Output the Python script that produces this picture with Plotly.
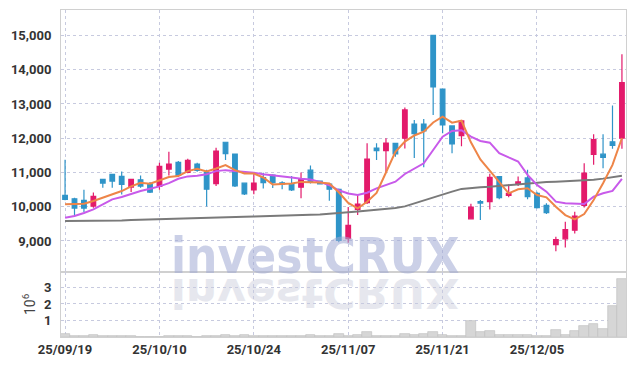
import base64
import plotly.graph_objects as go

# ---------------- data ----------------
dates = [
    "25/09/19", "25/09/22", "25/09/23", "25/09/24", "25/09/25", "25/09/26", "25/09/29", "25/09/30",
    "25/10/01", "25/10/02", "25/10/10", "25/10/13", "25/10/14", "25/10/15", "25/10/16", "25/10/17",
    "25/10/20", "25/10/21", "25/10/22", "25/10/23", "25/10/24", "25/10/27", "25/10/28", "25/10/29",
    "25/10/30", "25/10/31", "25/11/03", "25/11/04", "25/11/05", "25/11/06", "25/11/07", "25/11/10",
    "25/11/11", "25/11/12", "25/11/13", "25/11/14", "25/11/17", "25/11/18", "25/11/19", "25/11/20",
    "25/11/21", "25/11/24", "25/11/25", "25/11/26", "25/11/27", "25/11/28", "25/12/01", "25/12/02",
    "25/12/03", "25/12/04", "25/12/05", "25/12/08", "25/12/09", "25/12/10", "25/12/11", "25/12/12",
    "25/12/15", "25/12/16", "25/12/17", "25/12/18",
]
open_ = [10330, 10233, 10185, 10019, 10797, 10943, 10885, 10573, 10787, 10670,
         10593, 11098, 11293, 11000, 11244, 11005, 10676, 11882, 11539, 10686,
         10490, 10853, 10921, 10696, 10657, 10568, 11068, 10745, 10657, 10505,
         9065, 9922, 10117, 11714, 11636, 11850, 12000, 12415, 12415, 15000,
         13435, 12360, 12076, 9645, 10146, 10147, 10880, 10333, 10665, 10841,
         10391, 10039, 8895, 9061, 9316, 10039, 11525, 11535, 11897, 12005]
high = [11370, 10262, 10496, 10418, 10816, 10950, 11030, 10800, 10914, 10720,
        11283, 11604, 11332, 11400, 11283, 11080, 11725, 11900, 11550, 10690,
        10950, 10990, 10950, 10745, 10900, 11000, 11205, 10755, 10676, 10530,
        9990, 10360, 11850, 11850, 12000, 11860, 12900, 12530, 12560, 15000,
        13440, 12370, 12510, 10085, 10195, 10965, 10880, 10655, 10880, 11076,
        10440, 10098, 9120, 9560, 9853, 11271, 12112, 12112, 12953, 14452]
low = [10190, 9728, 9844, 9971, 10554, 10554, 10360, 10428, 10554, 10398,
       10496, 10914, 10865, 10980, 11020, 10005, 10608, 11362, 10578, 10343,
       10363, 10529, 10549, 10510, 10460, 10245, 10676, 10647, 10176, 8960,
       8950, 9756, 10078, 11363, 11000, 11460, 11700, 11420, 11150, 12680,
       12145, 11560, 11765, 9640, 9610, 9922, 10215, 10274, 10606, 10215,
       9950, 9785, 8700, 8807, 9218, 9980, 11222, 11125, 11690, 11690]
close = [10214, 9961, 9961, 10301, 10690, 10748, 10651, 10797, 10603, 10428,
         11176, 11244, 10914, 11351, 11060, 10510, 11627, 11548, 10608, 10372,
         10686, 10706, 10706, 10657, 10490, 10794, 10725, 10666, 10510, 9020,
         9455, 10078, 11393, 11636, 11856, 11540, 12825, 12130, 12215, 13500,
         12392, 11832, 12505, 9990, 10107, 10860, 10264, 10391, 10724, 10293,
         9970, 9824, 9042, 9335, 9726, 10978, 11956, 11437, 11790, 13620]
ma_short = [10075, 10080, 10087, 10165, 10262, 10360, 10457, 10593, 10700, 10670,
            10768, 10865, 10894, 11040, 11108, 11030, 11117, 11215, 11068, 10970,
            10970, 10853, 10647, 10657, 10676, 10725, 10725, 10706, 10676, 10420,
            10110, 9951, 10146, 10400, 11000, 11600, 11900, 12080, 12190, 12460,
            12630, 12455, 12510, 11880, 11380, 11050, 10704, 10391, 10508, 10538,
            10342, 10274, 10000, 9755, 9628, 9785, 10196, 10685, 11222, 12005]
ma_mid = [9679, 9728, 9815, 9922, 10068, 10214, 10282, 10380, 10457, 10525,
          10593, 10690, 10816, 10885, 10904, 10950, 11039, 11068, 11049, 11019,
          10990, 10950, 10921, 10902, 10853, 10813, 10794, 10725, 10627, 10480,
          10386, 10341, 10409, 10536, 10633, 10730, 10955, 11120, 11266, 11656,
          12045, 12211, 12235, 12045, 11920, 11870, 11565, 11438, 11320, 10929,
          10636, 10440, 10147, 10098, 10078, 10078, 10293, 10391, 10460, 10812]
ma_long = [9580, 9580, 9582, 9585, 9590, 9595, 9600, 9610, 9620, 9630,
           9640, 9650, 9660, 9670, 9680, 9690, 9695, 9700, 9705, 9710,
           9715, 9720, 9725, 9735, 9745, 9755, 9765, 9775, 9790, 9810,
           9840, 9860, 9880, 9900, 9930, 9960, 10010, 10100, 10180, 10280,
           10370, 10440, 10520, 10555, 10570, 10585, 10610, 10640, 10665, 10690,
           10705, 10720, 10730, 10740, 10750, 10765, 10790, 10820, 10860, 10905]
volume_millions = [0.20, 0.06, 0.05, 0.10, 0.06, 0.04, 0.05, 0.07, 0.03, 0.02,
                   0.03, 0.06, 0.07, 0.04, 0.03, 0.06, 0.08, 0.10, 0.07, 0.10,
                   0.07, 0.06, 0.06, 0.05, 0.05, 0.08, 0.10, 0.04, 0.05, 0.20,
                   0.06, 0.10, 0.32, 0.05, 0.05, 0.05, 0.20, 0.12, 0.18, 0.32,
                   0.12, 0.06, 0.04, 0.95, 0.28, 0.34, 0.10, 0.10, 0.14, 0.14,
                   0.08, 0.08, 0.44, 0.10, 0.34, 0.65, 0.80, 0.50, 1.86, 3.54]
price_ticks = [9000, 10000, 11000, 12000, 13000, 14000, 15000]
volume_ticks = [1, 2, 3]
date_tick_idx = [0, 10, 20, 30, 40, 50]

# ---------------- styles ----------------
RED = "#E31A6B"
BLUE = "#2F94C8"
ORANGE = "#EE8548"
PURPLE = "#C85AEA"
GRAYMA = "#7A7A7A"
GRID = "#C7CADF"
FRAME = "#D0D0D0"
FONT = "Roboto, DejaVu Sans Condensed, sans-serif"
TICKFONT = dict(family=FONT, size=13, color="#333333", weight="bold")
WMFONT = "DejaVu Sans Condensed, Roboto, sans-serif"

x_idx = list(range(len(dates)))

fig = go.Figure()

fig.add_trace(go.Bar(
    x=x_idx, y=volume_millions, xaxis="x2", yaxis="y2",
    marker=dict(color="#D6D6D6", line=dict(color="#BDBDBD", width=0.6)),
    showlegend=False, hoverinfo="skip",
))

fig.add_trace(go.Scatter(x=x_idx, y=ma_long, mode="lines", line=dict(color=GRAYMA, width=2),
                         xaxis="x", yaxis="y", showlegend=False, hoverinfo="skip"))
fig.add_trace(go.Scatter(x=x_idx, y=ma_mid, mode="lines", line=dict(color=PURPLE, width=2),
                         xaxis="x", yaxis="y", showlegend=False, hoverinfo="skip"))
fig.add_trace(go.Scatter(x=x_idx, y=ma_short, mode="lines", line=dict(color=ORANGE, width=2),
                         xaxis="x", yaxis="y", showlegend=False, hoverinfo="skip"))

fig.add_trace(go.Candlestick(
    x=x_idx, open=open_, high=high, low=low, close=close,
    increasing=dict(line=dict(color=RED, width=1.2), fillcolor=RED),
    decreasing=dict(line=dict(color=BLUE, width=1.2), fillcolor=BLUE),
    whiskerwidth=0, xaxis="x", yaxis="y", showlegend=False, hoverinfo="skip",
))

xcommon = dict(
    range=[-0.43, len(dates) - 1 + 0.43],
    tickmode="array",
    tickvals=date_tick_idx,
    ticktext=[dates[i] for i in date_tick_idx],
    showgrid=True, gridcolor=GRID, griddash="dot", gridwidth=1,
    showline=True, mirror=True, linecolor=FRAME, linewidth=1,
    zeroline=False, ticks="", automargin=False,
)

fig.update_layout(
    width=634, height=366,
    margin=dict(l=61, r=8, t=10, b=29),
    paper_bgcolor="white", plot_bgcolor="white",
    bargap=0,
    xaxis=dict(xcommon, anchor="y", domain=[0, 1], showticklabels=False,
               rangeslider=dict(visible=False)),
    yaxis=dict(anchor="x", domain=[0.199, 1], range=[8096, 15743],
               tickmode="array", tickvals=price_ticks,
               ticktext=[f"{v:,}" for v in price_ticks],
               tickfont=TICKFONT, ticks="", ticklabelstandoff=6, automargin=False,
               showgrid=True, gridcolor=GRID, griddash="dot", gridwidth=1,
               showline=True, mirror=True, linecolor=FRAME, zeroline=False),
    xaxis2=dict(xcommon, anchor="y2", domain=[0, 1], matches="x",
                tickfont=TICKFONT, ticklabelstandoff=0),
    yaxis2=dict(anchor="x2", domain=[0, 0.199], range=[0, 3.94],
                tickmode="array", tickvals=volume_ticks,
                ticktext=[str(v) for v in volume_ticks],
                tickfont=TICKFONT, ticks="", ticklabelstandoff=6, automargin=False,
                title=dict(text="10<sup>6</sup>", font=dict(family=FONT, size=14, color="#444444"),
                           standoff=5),
                showgrid=True, gridcolor=GRID, griddash="dot", gridwidth=1,
                showline=True, mirror=True, linecolor=FRAME, zeroline=False),
)

# watermark
fig.add_annotation(
    text="<b>investCRUX</b>", xref="paper", yref="paper", x=0.4496, y=0.2477,
    xanchor="center", yanchor="middle", showarrow=False,
    font=dict(family=WMFONT, size=49, color="rgba(160,170,212,0.55)"),
)

svg = (
    '<svg xmlns="http://www.w3.org/2000/svg" width="290" height="40" viewBox="0 0 290 40" '
    'preserveAspectRatio="none">'
    '<text x="145" y="0" text-anchor="middle" transform="scale(1,-0.85)" '
    'font-family="DejaVu Sans Condensed, Roboto, sans-serif" font-weight="bold" '
    'font-size="49" fill="#E6E7EE">investCRUX</text></svg>'
)
svg_uri = "data:image/svg+xml;base64," + base64.b64encode(svg.encode()).decode()
fig.add_layout_image(
    source=svg_uri, xref="paper", yref="paper", x=0.4496, y=0.178,
    xanchor="center", yanchor="top", sizex=290 / 565, sizey=40 / 327,
    sizing="stretch", layer="below",
)

fig.write_html("out.html", config={"displayModeBar": False},
               post_script="document.body.style.margin='0';")
